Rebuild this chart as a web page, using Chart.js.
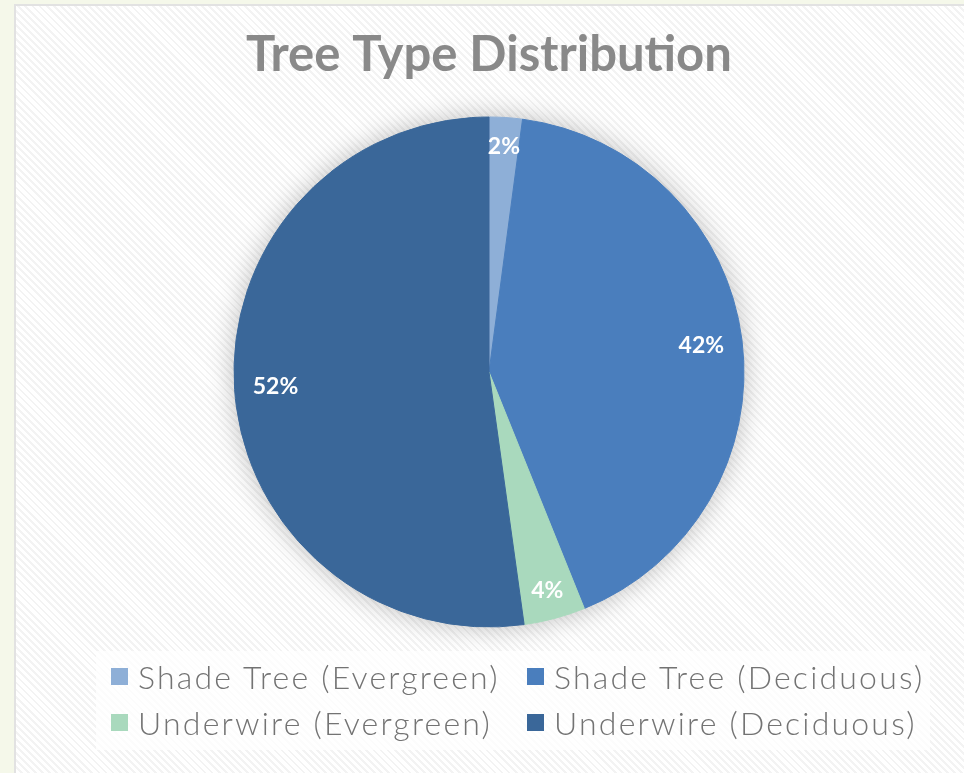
<!DOCTYPE html>
<html>
<head>
<meta charset="utf-8">
<script src="https://cdn.jsdelivr.net/npm/chart.js@4.4.0/dist/chart.umd.min.js"></script>
<style>
  body { margin: 0; width: 964px; height: 773px; overflow: hidden; background: #f5f8ea; position: relative; font-family: Lato, "Open Sans", sans-serif; }
  #frame {
    position: absolute; left: 14px; top: 4px; width: 950px; height: 769px;
    box-sizing: border-box; border-left: 2px solid #e2e2e2; border-top: 2px solid #e2e2e2;
    background: repeating-linear-gradient(45deg, #ffffff 0px, #ffffff 3px, #f3f3f3 3px, #f3f3f3 5px);
  }
  #wrap { position: absolute; left: 0; top: 0; width: 964px; height: 773px; }
  #legendBox {
    position: absolute; left: 96px; top: 651px; width: 834px; height: 99px;
    background: rgba(255,255,255,0.75);
  }
  .item { position: absolute; display: flex; align-items: center; font-size: 32px; font-weight: 300; color: #737373; white-space: nowrap; letter-spacing: 2.2px; }
  .sw { width: 17px; height: 17px; margin-right: 10px; }
</style>
</head>
<body>
<div id="frame"></div>
<div id="wrap"><canvas id="c" width="964" height="773"></canvas></div>
<div id="legendBox"></div>
<div id="legend"></div>
<script>
const categorias = ['Shade Tree (Evergreen)', 'Shade Tree (Deciduous)', 'Underwire (Evergreen)', 'Underwire (Deciduous)'];
const valores = [2.1, 41.8, 3.9, 52.2];
const rotulos = ['2%', '42%', '4%', '52%'];
const cores = ['#8eafd7', '#4a7ebd', '#a9d9bd', '#3a6799'];

// sombra suave atras da pizza
const sombra = {
  id: 'sombra',
  beforeDatasetsDraw(chart) {
    const arco = chart.getDatasetMeta(0).data[0];
    if(!arco) return;
    const ctx = chart.ctx;
    ctx.save();
    ctx.shadowColor = 'rgba(0,0,0,0.28)';
    ctx.shadowBlur = 28;
    ctx.fillStyle = '#ffffff';
    ctx.beginPath();
    ctx.arc(arco.x, arco.y, arco.outerRadius - 1, 0, Math.PI * 2);
    ctx.fill();
    ctx.restore();
  }
};

// rotulos de porcentagem dentro das fatias
const rotulosFatia = {
  id: 'rotulosFatia',
  afterDatasetsDraw(chart) {
    const ctx = chart.ctx;
    ctx.save();
    ctx.font = 'bold 23px Lato, "Open Sans", sans-serif';
    ctx.fillStyle = '#ffffff';
    ctx.textAlign = 'center';
    ctx.textBaseline = 'middle';
    chart.getDatasetMeta(0).data.forEach((a, i) => {
      const meio = (a.startAngle + a.endAngle) / 2;
      const w = ctx.measureText(rotulos[i]).width;
      const r = a.outerRadius - 0.9 * w;
      ctx.fillText(rotulos[i], a.x + Math.cos(meio) * r, a.y + Math.sin(meio) * r);
    });
    ctx.restore();
  }
};

new Chart(document.getElementById('c'), {
  type: 'pie',
  data: { labels: categorias, datasets: [{ data: valores, backgroundColor: cores, borderColor: cores, borderWidth: 1 }] },
  options: {
    responsive: false,
    animation: false,
    radius: 255,
    layout: { padding: { left: 14, right: 0, top: 0, bottom: 146 } },
    plugins: {
      legend: { display: false },
      tooltip: { enabled: false },
      title: {
        display: true,
        text: 'Tree Type Distribution',
        color: '#898989',
        font: { family: 'Lato, "Open Sans", sans-serif', size: 49, weight: 'bold' },
        padding: { top: 26, bottom: 32.2 }
      }
    }
  },
  plugins: [sombra, rotulosFatia]
});

// legenda em duas colunas
const leg = document.getElementById('legend');
const posX = [111, 527, 111, 527];
const posY = [656, 656, 702, 702];
categorias.forEach((nome, i) => {
  const d = document.createElement('div');
  d.className = 'item';
  d.style.left = posX[i] + 'px';
  d.style.top = posY[i] + 'px';
  d.style.height = '40px';
  d.innerHTML = `<span class="sw" style="background:${cores[i]}"></span><span>${nome}</span>`;
  leg.appendChild(d);
});
</script>
</body>
</html>
